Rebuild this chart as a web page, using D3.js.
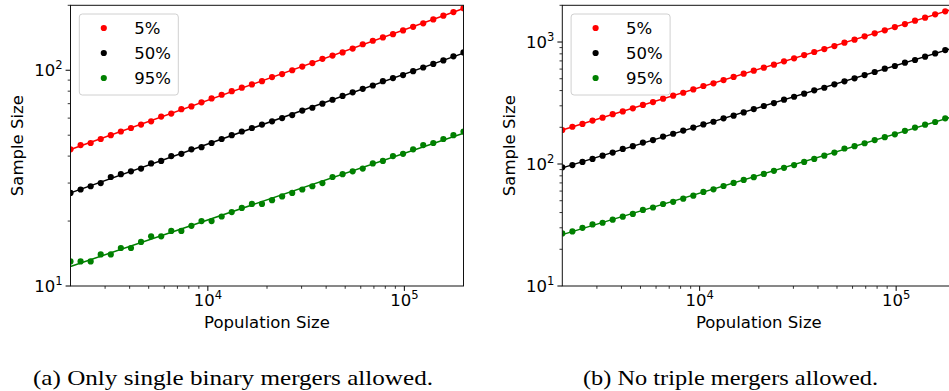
<!DOCTYPE html>
<html>
<head>
<meta charset="utf-8">
<script src="https://cdn.jsdelivr.net/npm/d3@7"></script>
<style>
  body { margin: 0; background: #fff; }
  svg { display: block; }
</style>
</head>
<body>
<svg id="fig" width="949" height="391"></svg>
<script>
// Population sizes (log-spaced grid shared by both panels)
const population = [
  2000, 2251, 2533, 2850, 3207, 3609, 4062, 4571, 5144, 5789,
  6514, 7331, 8250, 9284, 10448, 11757, 13231, 14890, 16756, 18856,
  21219, 23879, 26872, 30240, 34030, 38296, 43096, 48497, 54575, 61416,
  69113, 77776, 87524, 98494, 110839, 124731, 140365, 157958, 177756, 200000
];

const percentiles = ["5%", "50%", "95%"];

// (a) Only single binary mergers allowed
const binaryP5 = [43, 45, 46, 48, 50, 52, 54, 56, 58, 61, 63, 66, 68, 71, 74, 77, 80, 83, 86, 89,
  93, 96, 100, 104, 108, 113, 117, 121, 126, 132, 137, 142, 147, 153, 159, 165, 172, 179, 186, 194];
const binaryP50 = [27, 28, 29, 30, 32, 33, 34, 35, 37, 38, 40, 41, 43, 44, 46, 48, 50, 52, 54, 56,
  58, 60, 62, 65, 67, 70, 73, 76, 79, 82, 85, 89, 92, 95, 99, 103, 107, 111, 116, 121];
const binaryP95 = [13, 13, 13, 14, 14, 15, 15, 16, 17, 17, 18, 18, 19, 20, 20, 21, 22, 23, 24, 24,
  25, 26, 27, 28, 29, 30, 32, 33, 34, 35, 37, 38, 40, 41, 43, 45, 46, 48, 50, 52];

// (b) No triple mergers allowed
const noTripleP5 = [190, 202, 213, 227, 240, 256, 270, 286, 305, 322, 343, 363, 384, 409, 436, 459, 488, 517, 550, 582,
  616, 652, 694, 735, 782, 828, 876, 927, 987, 1045, 1113, 1178, 1246, 1327, 1404, 1496, 1583, 1687, 1784, 1890];
const noTripleP50 = [94, 98, 104, 110, 117, 124, 133, 140, 150, 157, 168, 177, 188, 199, 211, 222, 237, 249, 265, 282,
  299, 316, 337, 356, 377, 402, 422, 450, 476, 504, 536, 568, 605, 636, 677, 712, 758, 807, 859, 912];
const noTripleP95 = [27, 28, 30, 32, 33, 35, 37, 39, 42, 44, 47, 49, 52, 55, 59, 62, 66, 70, 74, 78,
  83, 88, 93, 98, 104, 110, 117, 124, 134, 140, 148, 157, 166, 175, 187, 199, 210, 221, 237, 249];

const xDomain = [2000, 200000];
const xTickExps = [4, 5];
const yTickExpsA = [1, 2];
const yTickExpsB = [1, 2, 3];
const captions = ["(a) Only single binary mergers allowed.", "(b) No triple mergers allowed."];

const colors = ["#ff0000", "#000000", "#008000"];
const FONT = "DejaVu Sans, sans-serif";
const FS = 16.5;
const R = 3.1;

const svg = d3.select("#fig");

const panels = [
  { id: "a", left: 70.5, top: 5.3, width: 393, height: 280.7, yDomain: [10, 200],
    yExps: yTickExpsA, series: [binaryP5, binaryP50, binaryP95],
    caption: captions[0], capX: 233, capW: 400, yLabelX: 23 },
  { id: "b", left: 562.3, top: 5.3, width: 393, height: 280.7, yDomain: [10, 2000],
    yExps: yTickExpsB, series: [noTripleP5, noTripleP50, noTripleP95],
    caption: captions[1], capX: 730.5, capW: 295, yLabelX: 515 }
];

// least-squares fit in log-log space
function logFit(xs, ys) {
  const lx = xs.map(Math.log10), ly = ys.map(Math.log10);
  const mx = d3.mean(lx), my = d3.mean(ly);
  let sxy = 0, sxx = 0;
  lx.forEach((v, i) => { sxy += (v - mx) * (ly[i] - my); sxx += (v - mx) * (v - mx); });
  const b = sxy / sxx, a = my - b * mx;
  return x => Math.pow(10, a + b * Math.log10(x));
}

function powLabel(sel, exp) {
  sel.append("tspan").text("10");
  sel.append("tspan").attr("dy", -7).attr("font-size", FS * 0.7).text(exp);
}

panels.forEach(p => {
  const x = d3.scaleLog().domain(xDomain).range([p.left, p.left + p.width]);
  const y = d3.scaleLog().domain(p.yDomain).range([p.top + p.height, p.top]);
  const g = svg.append("g");

  const clipId = "clip-" + p.id;
  svg.append("clipPath").attr("id", clipId)
    .append("rect").attr("x", p.left).attr("y", p.top).attr("width", p.width).attr("height", p.height);

  const plot = g.append("g").attr("clip-path", `url(#${clipId})`);

  // fitted trend lines
  p.series.forEach((vals, k) => {
    const f = logFit(population, vals);
    plot.append("line")
      .attr("x1", x(xDomain[0])).attr("y1", y(f(xDomain[0])))
      .attr("x2", x(xDomain[1])).attr("y2", y(f(xDomain[1])))
      .attr("stroke", colors[k]).attr("stroke-width", 1.5);
  });

  // sample points
  p.series.forEach((vals, k) => {
    plot.selectAll(null).data(vals).enter().append("circle")
      .attr("cx", (d, i) => x(population[i]))
      .attr("cy", d => y(d))
      .attr("r", R)
      .attr("fill", colors[k]);
  });

  // axes ticks (major + minor)
  const ax = g.append("g").attr("stroke", "#000");
  const xMinor = [], yMinor = [];
  for (let e = 3; e <= 5; e++) for (let m = 2; m <= 9; m++) {
    const v = m * Math.pow(10, e);
    if (v > xDomain[0] && v < xDomain[1]) xMinor.push(v);
  }
  for (let e = 1; e <= 3; e++) for (let m = 2; m <= 9; m++) {
    const v = m * Math.pow(10, e);
    if (v > p.yDomain[0] && v <= p.yDomain[1]) yMinor.push(v);
  }
  const yb = p.top + p.height;
  xMinor.forEach(v => ax.append("line").attr("x1", x(v)).attr("x2", x(v)).attr("y1", yb).attr("y2", yb + 2.8).attr("stroke-width", 0.8));
  yMinor.forEach(v => ax.append("line").attr("y1", y(v)).attr("y2", y(v)).attr("x1", p.left).attr("x2", p.left - 2.8).attr("stroke-width", 0.8));
  xTickExps.forEach(e => ax.append("line").attr("x1", x(Math.pow(10, e))).attr("x2", x(Math.pow(10, e))).attr("y1", yb).attr("y2", yb + 4.9).attr("stroke-width", 1));
  p.yExps.forEach(e => ax.append("line").attr("y1", y(Math.pow(10, e))).attr("y2", y(Math.pow(10, e))).attr("x1", p.left).attr("x2", p.left - 4.9).attr("stroke-width", 1));

  // tick labels
  xTickExps.forEach(e => {
    const t = g.append("text").attr("x", x(Math.pow(10, e))).attr("y", yb + 19.7)
      .attr("text-anchor", "middle").attr("font-family", FONT).attr("font-size", FS).attr("fill", "#000");
    powLabel(t, e);
  });
  p.yExps.forEach(e => {
    const t = g.append("text").attr("x", p.left - 8).attr("y", y(Math.pow(10, e)) + 5.8)
      .attr("text-anchor", "end").attr("font-family", FONT).attr("font-size", FS).attr("fill", "#000");
    powLabel(t, e);
  });

  // spines
  g.append("rect").attr("x", p.left).attr("y", p.top).attr("width", p.width).attr("height", p.height)
    .attr("fill", "none").attr("stroke", "#111").attr("stroke-width", 1);

  // axis titles
  g.append("text").attr("x", p.left + p.width / 2).attr("y", 328)
    .attr("text-anchor", "middle").attr("font-family", FONT).attr("font-size", FS).text("Population Size");
  g.append("text").attr("transform", `translate(${p.yLabelX},${p.top + p.height / 2}) rotate(-90)`)
    .attr("text-anchor", "middle").attr("font-family", FONT).attr("font-size", FS).text("Sample Size");

  // legend
  const lg = g.append("g").attr("transform", `translate(${p.left + 8.8},14)`);
  lg.append("rect").attr("width", 99).attr("height", 81).attr("rx", 3)
    .attr("fill", "#fff").attr("fill-opacity", 0.8).attr("stroke", "#d0d0d0").attr("stroke-width", 1);
  percentiles.forEach((lab, k) => {
    const cy = 14 + k * 25;
    lg.append("circle").attr("cx", 24.5).attr("cy", cy).attr("r", R).attr("fill", colors[k]);
    lg.append("text").attr("x", 55).attr("y", cy + 6).attr("font-family", FONT).attr("font-size", FS).text(lab);
  });

  // caption
  svg.append("text").attr("x", p.capX).attr("y", 385).attr("text-anchor", "middle")
    .attr("font-family", "Liberation Serif, serif").attr("font-size", 21)
    .attr("textLength", p.capW).attr("lengthAdjust", "spacingAndGlyphs").text(p.caption);
});
</script>
</body>
</html>
